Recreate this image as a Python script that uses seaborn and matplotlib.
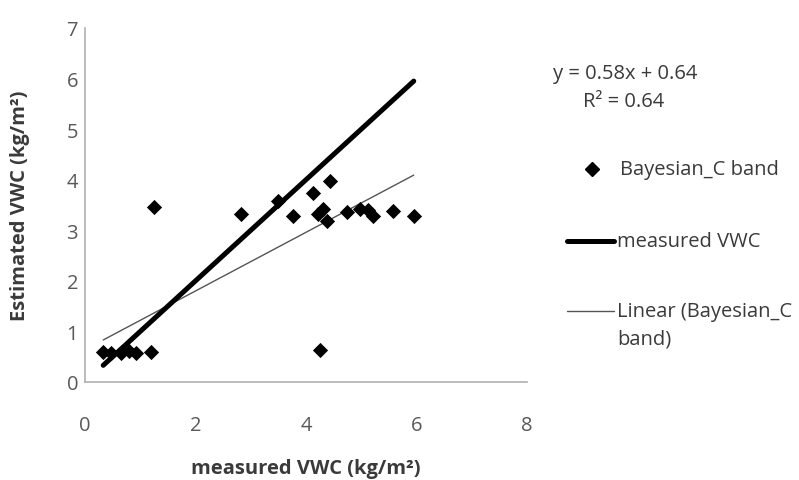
import numpy as np
import pandas as pd
import matplotlib
matplotlib.use("Agg")
import matplotlib.pyplot as plt
import seaborn as sns
from matplotlib.lines import Line2D

# Data
measured = [0.33, 0.47, 0.65, 0.79, 0.92, 1.19, 1.25, 2.83, 3.50, 3.77, 4.12, 4.22,
            4.30, 4.26, 4.38, 4.44, 4.75, 4.98, 5.13, 5.22, 5.58, 5.95]
estimated = [0.60, 0.58, 0.57, 0.62, 0.58, 0.60, 3.46, 3.32, 3.58, 3.28, 3.74, 3.32,
             3.42, 0.63, 3.18, 3.97, 3.36, 3.42, 3.40, 3.28, 3.38, 3.28]
fit_slope = 0.58
fit_intercept = 0.64
fit_r2 = 0.64
x_ticks = [0, 2, 4, 6, 8]
y_ticks = [0, 1, 2, 3, 4, 5, 6, 7]

df = pd.DataFrame({"measured": measured, "estimated": estimated})
x_sorted = np.sort(np.array(measured))
one_to_one = pd.DataFrame({"x": [x_sorted[0], x_sorted[-1]], "y": [x_sorted[0], x_sorted[-1]]})
trend = pd.DataFrame({"x": [x_sorted[0], x_sorted[-1]],
                      "y": [fit_slope * x_sorted[0] + fit_intercept,
                            fit_slope * x_sorted[-1] + fit_intercept]})

sns.set_style("white")
plt.rcParams["font.family"] = ["Open Sans", "DejaVu Sans"]

FS = 14.5
TXT = "#3a3a3a"
TICK = "#595959"
TREND = "#555555"

W, H = 799, 481
fig = plt.figure(figsize=(W / 100, H / 100), dpi=100)
ax = fig.add_axes([85 / W, 1 - 383 / H, (527 - 85) / W, (383 - 29) / H])

sns.lineplot(data=trend, x="x", y="y", ax=ax, color=TREND, linewidth=1.0, zorder=2)
sns.lineplot(data=one_to_one, x="x", y="y", ax=ax, color="black", linewidth=3.6, zorder=3)
sns.scatterplot(data=df, x="measured", y="estimated", ax=ax, marker="D", s=60,
                color="black", edgecolor="black", linewidth=0, zorder=4)

ax.set_xlim(0, 8)
ax.set_ylim(0, 7)
ax.set_xticks(x_ticks)
ax.set_yticks(y_ticks)
ax.tick_params(axis="both", length=0, labelsize=FS, labelcolor=TICK)
ax.tick_params(axis="y", pad=5)
ax.tick_params(axis="x", pad=24)
for s in ["top", "right"]:
    ax.spines[s].set_visible(False)
for s in ["left", "bottom"]:
    ax.spines[s].set_color("#b0b0b0")
    ax.spines[s].set_linewidth(1.2)

ax.set_xlabel("measured VWC (kg/m²)", fontsize=FS, fontweight="bold", color=TXT, labelpad=16)
ax.set_ylabel("Estimated VWC (kg/m²)", fontsize=FS, fontweight="bold", color=TXT, labelpad=26)

def fx(px):
    return px / W

def fy(py):
    return 1 - py / H

fig.text(fx(553), fy(74), f"y = {fit_slope}x + {fit_intercept}", fontsize=FS,
         color=TXT, va="center", ha="left")
fig.text(fx(583), fy(102), f"R² = {fit_r2}", fontsize=FS,
         color=TXT, va="center", ha="left")

# Legend entries (drawn in figure coordinates)
fig.add_artist(Line2D([fx(592)], [fy(170)], marker="D", color="black",
                      linestyle="none", markersize=7.5, transform=fig.transFigure))
fig.text(fx(620), fy(170), "Bayesian_C band", fontsize=FS, color=TXT, va="center", ha="left")

fig.add_artist(Line2D([fx(567), fx(614)], [fy(242), fy(242)], color="black",
                      linewidth=3.6, transform=fig.transFigure))
fig.text(fx(617), fy(242), "measured VWC", fontsize=FS, color=TXT, va="center", ha="left")

fig.add_artist(Line2D([fx(567), fx(614)], [fy(312), fy(312)], color=TREND,
                      linewidth=1.0, transform=fig.transFigure))
fig.text(fx(617), fy(312), "Linear (Bayesian_C", fontsize=FS, color=TXT, va="center", ha="left")
fig.text(fx(617), fy(340), "band)", fontsize=FS, color=TXT, va="center", ha="left")

fig.savefig("out.png", dpi=100)
